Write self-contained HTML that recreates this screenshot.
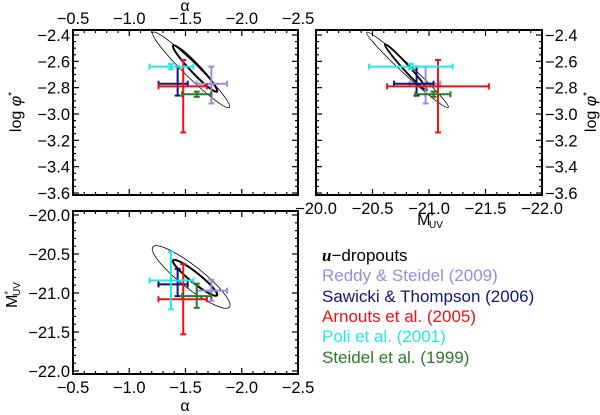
<!DOCTYPE html>
<html><head><meta charset="utf-8"><style>
html,body{margin:0;padding:0;background:#fff;}
svg{display:block;font-family:"Liberation Sans",sans-serif;}
</style></head><body>
<svg id="chart" width="600" height="415" viewBox="0 0 600 415" xmlns="http://www.w3.org/2000/svg">
<g id="axes"></g>
<g id="marks"></g>
<g id="legend" font-size="17">
<text x="322" y="261" fill="#000"><tspan font-family="Liberation Serif" font-style="italic" font-weight="bold">u</tspan>−dropouts</text>
<text x="322" y="281" fill="#9a8ae0">Reddy &amp; Steidel (2009)</text>
<text x="322" y="302" fill="#141478">Sawicki &amp; Thompson (2006)</text>
<text x="322" y="322" fill="#f01010">Arnouts et al. (2005)</text>
<text x="322" y="342" fill="#22e8e8">Poli et al. (2001)</text>
<text x="322" y="363" fill="#2a7a2a">Steidel et al. (1999)</text>
</g>
</svg>
<script>
const seriesNames=["reddy","sawicki","arnouts","poli","steidel"];
const seriesColors=["#9a8ae0","#141478","#f01010","#22e8e8","#2a7a2a"];
const alphaVal=[-1.73,-1.43,-1.48,-1.37,-1.60];
const alphaLo=[-1.60,-1.26,-1.26,-1.18,-1.47];
const alphaHi=[-1.87,-1.52,-1.69,-1.57,-1.73];
const phiVal=[-2.77,-2.77,-2.79,-2.64,-2.85];
const phiLo=[-2.64,-2.64,-2.59,-2.62,-2.83];
const phiHi=[-2.92,-2.86,-3.14,-2.66,-2.87];
const mVal=[-20.97,-20.89,-21.08,-20.84,-21.04];
const mLo=[-20.83,-20.69,-20.63,-20.47,-20.88];
const mHi=[-21.10,-21.04,-21.53,-21.21,-21.19];
const alphaTicks=[-0.5,-1.0,-1.5,-2.0,-2.5];
const phiTicks=[-2.4,-2.6,-2.8,-3.0,-3.2,-3.4,-3.6];
const mTicks=[-20.0,-20.5,-21.0,-21.5,-22.0];
// contours: [centerX, centerY, halfMajorX, halfMajorY] in data units
const ellAP=[[-1.55,-2.665,0.34,0.285],[-1.585,-2.655,0.195,0.175]];
const ellMP=[[-20.81,-2.665,0.36,0.285],[-20.795,-2.645,0.185,0.175]];
const ellAM=[[-1.55,-20.795,0.34,0.385],[-1.585,-20.805,0.195,0.225]];

const NS="http://www.w3.org/2000/svg";
const axes=document.getElementById('axes'), marks=document.getElementById('marks');
function el(tag,attrs,parent){const e=document.createElementNS(NS,tag);for(const k in attrs)e.setAttribute(k,attrs[k]);(parent||marks).appendChild(e);return e;}
function lin(d0,d1,p0,p1){return v=>p0+(v-d0)*(p1-p0)/(d1-d0);}
const xA=lin(-0.5,-2.5,73,298), xM=lin(-20,-22,316,542);
const yP=lin(-2.4,-3.6,35,193), yM=lin(-20,-22,215,371);
const panels=[
 {name:'panel-alpha-phi',x0:73,x1:298,y0:30,y1:195,fx:xA,fy:yP,xt:alphaTicks,yt:phiTicks,xmin:0.1,ymin:0.05,labTop:true,labLeft:true},
 {name:'panel-m-phi',x0:316,x1:542,y0:30,y1:195,fx:xM,fy:yP,xt:mTicks,yt:phiTicks,xmin:0.1,ymin:0.05,labBottom:true,labRight:true},
 {name:'panel-alpha-m',x0:73,x1:298,y0:211,y1:374,fx:xA,fy:yM,xt:alphaTicks,yt:mTicks,xmin:0.1,ymin:0.1,labBottom:true,labLeft:true}
];
function fmt(v){return v.toFixed(1).replace('-','−');}
const FS=16.5;
panels.forEach(p=>{
 const g=el('g',{},axes);
 
 
 const r=el('rect',{x:p.x0,y:p.y0,width:p.x1-p.x0,height:p.y1-p.y0,fill:'none',stroke:'#000','stroke-width':2},g);
 
 
 const xs=p.xt[0],xe=p.xt[p.xt.length-1];
 for(let v=xs;v>=xe-1e-6;v-=p.xmin){
  const X=p.fx(v), maj=Math.abs(v/0.5-Math.round(v/0.5))<1e-3, L=maj?6:3;
  el('line',{x1:X,x2:X,y1:p.y1,y2:p.y1-L,stroke:'#000','stroke-width':1.2},g);
  el('line',{x1:X,x2:X,y1:p.y0,y2:p.y0+L,stroke:'#000','stroke-width':1.2},g);
 }
 p.xt.forEach(v=>{
  const X=p.fx(v);
  if(p.labTop){const t=el('text',{x:X,y:24,'text-anchor':'middle','font-size':FS},g);t.textContent=fmt(v);}
  if(p.labBottom){const t=el('text',{x:X,y:p.y1+19,'text-anchor':'middle','font-size':FS},g);t.textContent=fmt(v);}
 });
 const ys=p.yt[0],ye=p.yt[p.yt.length-1],ymaj=p.yt[0]-p.yt[1];
 for(let v=ys;v>=ye-1e-6;v-=p.ymin){
  const Y=p.fy(v), maj=Math.abs((v-ys)/ymaj-Math.round((v-ys)/ymaj))<1e-3, L=maj?6:3;
  el('line',{x1:p.x0,x2:p.x0+L,y1:Y,y2:Y,stroke:'#000','stroke-width':1.2},g);
  el('line',{x1:p.x1,x2:p.x1-L,y1:Y,y2:Y,stroke:'#000','stroke-width':1.2},g);
 }
 p.yt.forEach(v=>{
  const Y=p.fy(v)+6;
  if(p.labLeft){const t=el('text',{x:p.x0-3,y:Y,'text-anchor':'end','font-size':FS},g);t.textContent=fmt(v);}
  if(p.labRight){const t=el('text',{x:p.x1+3,y:Y,'text-anchor':'start','font-size':FS},g);t.textContent=fmt(v);}
 });
});
function title(txt,x,y,rot,name,html){const t=el('text',{x:x,y:y,'text-anchor':'middle','font-size':16,transform:rot?`rotate(${rot} ${x} ${y})`:''},axes);t.innerHTML=html||txt;}
title('α',185,11,0,'top-x-axis-title');
title('α',185,411,0,'bottom-x-axis-title');
title('',21,112,-90,'left-y-axis-title-phi','log <tspan font-style="italic">φ</tspan><tspan dy="-6" font-size="10">*</tspan>');
title('',596,112,-90,'right-y-axis-title-phi','log <tspan font-style="italic">φ</tspan><tspan dy="-6" font-size="10">*</tspan>');
title('',430,225,0,'m-x-axis-title','M<tspan dy="-6" font-size="9">*</tspan><tspan dy="9" dx="-5" font-size="10">UV</tspan>');
title('',17,295,-90,'m-y-axis-title','M<tspan dy="-6" font-size="9">*</tspan><tspan dy="9" dx="-5" font-size="10">UV</tspan>');
function ellipse(e,fx,fy,minorPx,w,name){
 const cx=fx(e[0]),cy=fy(e[1]);
 const ax=fx(e[0]+e[2])-cx, ay=fy(e[1]+e[3])-cy;
 const len=Math.hypot(ax,ay), ang=Math.atan2(ay,ax)*180/Math.PI;
 const c=el('ellipse',{cx:cx,cy:cy,rx:len,ry:minorPx,transform:`rotate(${ang} ${cx} ${cy})`,fill:'none',stroke:'#000','stroke-width':w});
 
 
}
ellipse(ellAP[0],xA,yP,7,0.8,'contour-outer-alpha-phi');ellipse(ellAP[1],xA,yP,4.5,2,'contour-inner-alpha-phi');
ellipse(ellMP[0],xM,yP,5,0.8,'contour-outer-m-phi');ellipse(ellMP[1],xM,yP,3,1.8,'contour-inner-m-phi');
ellipse(ellAM[0],xA,yM,11,0.8,'contour-outer-alpha-m');ellipse(ellAM[1],xA,yM,5,2,'contour-inner-alpha-m');
function errbar(fx,fy,xv,xl,xh,yv,yl,yh,col,name){
 const g=el('g',{stroke:col,'stroke-width':2});
 
 
 const X=fx(xv),Y=fy(yv),X1=fx(xl),X2=fx(xh),Y1=fy(yl),Y2=fy(yh);
 el('line',{x1:X1,x2:X2,y1:Y,y2:Y},g);
 el('line',{x1:X1,x2:X1,y1:Y-3,y2:Y+3},g);el('line',{x1:X2,x2:X2,y1:Y-3,y2:Y+3},g);
 el('line',{x1:X,x2:X,y1:Y1,y2:Y2},g);
 el('line',{x1:X-3,x2:X+3,y1:Y1,y2:Y1},g);el('line',{x1:X-3,x2:X+3,y1:Y2,y2:Y2},g);
}
seriesNames.forEach((n,i)=>{
 errbar(xA,yP,alphaVal[i],alphaLo[i],alphaHi[i],phiVal[i],phiLo[i],phiHi[i],seriesColors[i],'errorbar-'+n+'-alpha-phi');
 errbar(xM,yP,mVal[i],mLo[i],mHi[i],phiVal[i],phiLo[i],phiHi[i],seriesColors[i],'errorbar-'+n+'-m-phi');
 errbar(xA,yM,alphaVal[i],alphaLo[i],alphaHi[i],mVal[i],mLo[i],mHi[i],seriesColors[i],'errorbar-'+n+'-alpha-m');
});
</script>
</body></html>
